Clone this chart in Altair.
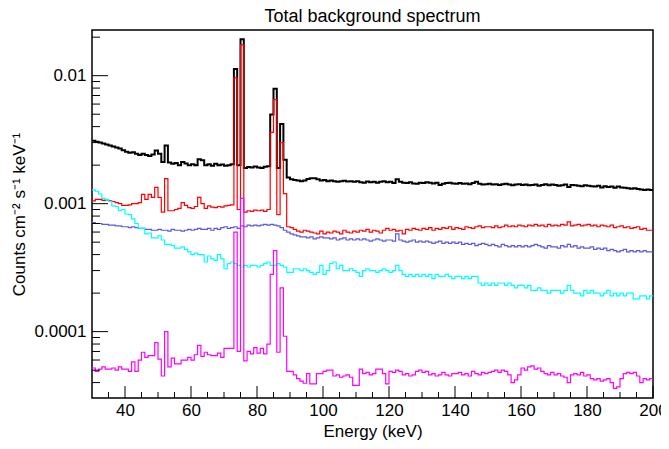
import altair as alt
import pandas as pd

# Bin left edges: 30..199 keV, 1 keV bins; values in units of 1e-5 counts cm^-2 s^-1 keV^-1
E_START = 30
UNIT = 1e-5

total = [
    310, 305, 300, 295, 290, 285, 280, 275, 270, 262,
    255, 250, 252, 245, 240, 246, 240, 236, 242, 260,
    245, 212, 285, 210, 205, 208, 200, 212, 206, 200,
    203, 200, 222, 218, 200, 203, 198, 205, 200, 202,
    198, 200, 203, 1130, 200, 1930, 190, 193, 192, 195,
    192, 190, 194, 196, 497, 790, 190, 420, 220, 160,
    155, 153, 152, 150, 152, 156, 158, 158, 155, 152,
    153, 150, 152, 150, 148, 150, 151, 149, 150, 148,
    150, 147, 146, 149, 147, 148, 146, 148, 150, 147,
    148, 145, 155, 148, 146, 145, 147, 144, 143, 146,
    145, 147, 146, 144, 146, 140, 143, 145, 146, 144,
    143, 145, 143, 144, 142, 145, 148, 143, 141, 142,
    143, 141, 142, 140, 142, 143, 141, 139, 141, 142,
    140, 141, 139, 140, 141, 138, 140, 142, 139, 141,
    140, 138, 139, 141, 135, 140, 139, 138, 137, 139,
    138, 137, 136, 138, 134, 137, 135, 136, 133, 136,
    134, 133, 132, 131, 132, 130, 129, 128, 129, 128,
]

component_red = [
    105, 108, 108, 106, 107, 105, 104, 102, 100, 97,
    97, 98, 100, 100, 102, 118, 108, 118, 112, 134,
    112, 86, 157, 88, 88, 90, 92, 102, 97, 93,
    92, 95, 112, 100, 92, 96, 94, 93, 95, 94,
    96, 97, 98, 960, 90, 1740, 86, 88, 87, 89,
    88, 89, 87, 90, 360, 650, 82, 300, 120, 66,
    65, 63, 61, 60, 62, 61, 60, 59, 58, 61,
    58, 60, 59, 61, 60, 58, 62, 60, 59, 61,
    60, 62, 61, 63, 60, 62, 61, 59, 62, 64,
    62, 63, 61, 62, 58, 63, 62, 64, 63, 62,
    64, 63, 65, 62, 64, 63, 65, 64, 66, 63,
    65, 64, 63, 66, 65, 64, 66, 67, 65, 66,
    66, 65, 67, 65, 66, 68, 66, 67, 66, 68,
    67, 66, 68, 67, 69, 67, 68, 66, 69, 67,
    68, 67, 69, 68, 72, 67, 68, 69, 67, 68,
    69, 67, 68, 66, 68, 67, 66, 68, 65, 66,
    67, 65, 66, 64, 65, 66, 63, 64, 62, 62,
]

component_blue = [
    71, 70, 70, 69, 69, 68, 68, 67, 67, 66,
    66, 65, 66, 65, 64, 64, 63, 63, 62, 62,
    63, 62, 62, 61, 63, 62, 62, 61, 62, 63,
    62, 63, 64, 63, 63, 64, 62, 64, 63, 65,
    66, 64, 65, 66, 64, 67, 66, 68, 67, 68,
    67, 68, 69, 68, 69, 68, 67, 65, 62, 60,
    58, 57, 56, 55, 55, 54, 55, 53, 54, 55,
    54, 54, 53, 54, 52, 53, 54, 52, 53, 52,
    53, 52, 53, 52, 51, 52, 53, 52, 51, 52,
    52, 51, 58, 52, 51, 50, 51, 52, 50, 51,
    50, 51, 50, 49, 50, 51, 49, 50, 49, 50,
    49, 50, 48, 49, 48, 49, 47, 48, 49, 48,
    47, 48, 47, 46, 48, 47, 46, 47, 46, 47,
    46, 47, 46, 47, 48, 47, 46, 45, 47, 46,
    46, 45, 47, 46, 48, 46, 47, 45, 46, 45,
    45, 46, 44, 45, 44, 45, 43, 44, 43, 42,
    43, 44, 42, 43, 42, 43, 42, 43, 42, 42,
]

component_cyan = [
    128, 125, 119, 110, 108, 104, 96, 95, 88, 90,
    83, 82, 76, 70, 64, 64, 58, 59, 54, 54,
    56, 52, 48, 48, 47, 45, 45, 46, 44, 42,
    40, 41, 40, 40, 35, 39, 37, 36, 40, 37,
    31, 34, 35, 34, 33, 32, 33, 32, 33, 33,
    32, 33, 34, 35, 33, 33, 34, 33, 32, 29,
    29, 31, 31, 30, 31, 30, 29, 28, 29, 33,
    28, 30, 34, 35, 31, 33, 30, 30, 31, 30,
    29, 27, 30, 31, 30, 30, 29, 30, 31, 30,
    29, 30, 33, 30, 28, 27, 28, 27, 28, 27,
    28, 27, 28, 26, 28, 27, 27, 28, 27, 26,
    27, 27, 26, 27, 26, 27, 27, 24, 23, 24,
    23, 24, 23, 24, 24, 23, 24, 23, 22, 23,
    23, 22, 23, 21, 21, 22, 21, 21, 20, 21,
    21, 21, 20, 21, 23, 21, 20, 20, 19, 21,
    20, 21, 20, 20, 19, 20, 21, 19, 20, 19,
    20, 19, 20, 20, 18, 18, 19, 19, 18, 19,
]

component_magenta = [
    5.2, 4.9, 5.1, 5.3, 5.1, 5.1, 5.2, 5.0, 5.3, 5.1,
    5.1, 4.9, 5.8, 4.9, 6.0, 6.9, 6.3, 6.5, 6.5, 8.2,
    6.1, 4.5, 10.0, 5.3, 6.2, 5.6, 5.6, 6.0, 6.0, 6.3,
    6.0, 6.6, 7.8, 6.4, 6.9, 6.6, 6.5, 6.5, 6.8, 6.3,
    7.4, 7.4, 7.4, 60, 7.0, 110, 5.9, 7.0, 6.7, 7.5,
    6.8, 7.4, 6.7, 8.0, 28, 43, 6.9, 22, 9.2, 4.9,
    4.9, 4.6, 4.3, 4.1, 3.95, 4.7, 3.9, 3.9, 4.7, 4.7,
    4.9, 5.0, 5.0, 4.5, 4.6, 4.4, 4.5, 4.6, 4.4, 3.8,
    3.8, 5.1, 4.7, 4.8, 4.6, 4.7, 5.1, 5.1, 4.7, 3.9,
    4.9, 4.8, 5.0, 4.9, 4.6, 4.7, 4.5, 4.6, 4.9, 5.0,
    4.8, 4.9, 4.6, 4.7, 4.5, 4.6, 4.8, 4.6, 4.5, 4.7,
    4.7, 4.8, 4.6, 4.7, 4.5, 4.9, 4.7, 4.6, 4.8, 4.7,
    4.8, 4.9, 5.0, 4.8, 5.0, 4.9, 4.6, 4.0, 4.2, 4.6,
    5.2, 5.0, 5.3, 5.4, 5.1, 5.2, 4.9, 4.7, 4.6, 4.8,
    4.6, 4.7, 4.5, 4.4, 4.0, 4.6, 4.7, 4.6, 4.8, 4.5,
    4.6, 4.3, 4.2, 4.3, 4.1, 4.2, 4.3, 4.0, 3.6, 3.7,
    4.3, 4.7, 4.8, 4.7, 4.8, 4.5, 4.0, 4.3, 4.2, 4.3,
]

series = [
    ("total", total, "#000000", 2.0),
    ("red", component_red, "#ff0000", 1.2),
    ("blue", component_blue, "#5a5adc", 1.2),
    ("cyan", component_cyan, "#00ffff", 1.2),
    ("magenta", component_magenta, "#ff00ff", 1.2),
]

x_major = [40, 60, 80, 100, 120, 140, 160, 180, 200]
x_minor = [35, 45, 50, 55, 65, 70, 75, 85, 90, 95, 105, 110, 115, 125, 130, 135,
           145, 150, 155, 165, 170, 175, 185, 190, 195]
y_major = [1e-4, 1e-3, 1e-2]
y_minor = [4e-5, 5e-5, 6e-5, 7e-5, 8e-5, 9e-5,
           2e-4, 3e-4, 4e-4, 5e-4, 6e-4, 7e-4, 8e-4, 9e-4,
           2e-3, 3e-3, 4e-3, 5e-3, 6e-3, 7e-3, 8e-3, 9e-3, 2e-2]

W, H = 561, 368
FONT = "Liberation Sans"
FS = 17
x_scale = alt.Scale(domain=[30, 200], nice=False, zero=False)
y_scale = alt.Scale(type="log", domain=[3.03e-5, 0.02275], nice=False)

layers = []
for i, (name, vals, color, sw) in enumerate(series):
    energies = [E_START + k for k in range(len(vals))] + [E_START + len(vals)]
    ys = [v * UNIT for v in vals] + [vals[-1] * UNIT]
    df = pd.DataFrame({"energy": energies, "rate": ys})
    if i == 0:
        xenc = alt.X("energy:Q", scale=x_scale,
                     axis=alt.Axis(values=x_major, ticks=False, domain=False, grid=False,
                                   labelFlush=False,
                                   labelFontSize=FS, labelFont=FONT, labelColor="black",
                                   labelPadding=4, title="Energy (keV)", titleFont=FONT,
                                   titleFontSize=FS, titleFontWeight="normal",
                                   titleColor="black", titlePadding=5))
        yenc = alt.Y("rate:Q", scale=y_scale,
                     axis=alt.Axis(values=y_major, format="~g", ticks=False, domain=False,
                                   grid=False, labelFontSize=FS, labelFont=FONT,
                                   labelColor="black", labelPadding=6,
                                   title="Counts cm⁻² s⁻¹ keV⁻¹", titleFont=FONT,
                                   titleFontSize=FS, titleFontWeight="normal",
                                   titleColor="black", titlePadding=6))
    else:
        xenc = alt.X("energy:Q", scale=x_scale)
        yenc = alt.Y("rate:Q", scale=y_scale)
    layers.append(
        alt.Chart(df).mark_line(interpolate="step-after", color=color, strokeWidth=sw)
        .encode(x=xenc, y=yenc)
    )

# Inside tick marks (ROOT style)
ytm = alt.Chart(pd.DataFrame({"v": y_major})).mark_rule(color="black", strokeWidth=1).encode(
    y=alt.Y("v:Q", scale=y_scale), x=alt.value(0), x2=alt.value(16))
ytn = alt.Chart(pd.DataFrame({"v": y_minor})).mark_rule(color="black", strokeWidth=1).encode(
    y=alt.Y("v:Q", scale=y_scale), x=alt.value(0), x2=alt.value(8))
xtm = alt.Chart(pd.DataFrame({"v": x_major})).mark_rule(color="black", strokeWidth=1).encode(
    x=alt.X("v:Q", scale=x_scale), y=alt.value(H), y2=alt.value(H - 12))
xtn = alt.Chart(pd.DataFrame({"v": x_minor})).mark_rule(color="black", strokeWidth=1).encode(
    x=alt.X("v:Q", scale=x_scale), y=alt.value(H), y2=alt.value(H - 6))

chart = alt.layer(*layers, ytm, ytn, xtm, xtn).properties(
    width=W, height=H,
    background="white",
    title=alt.TitleParams("Total background spectrum", font=FONT, fontSize=18,
                          fontWeight="normal", color="black", anchor="middle", offset=4),
    padding={"left": 84, "top": 22, "right": 8, "bottom": 43},
    autosize=alt.AutoSizeParams(type="none"),
).configure_view(stroke="black", strokeWidth=1.5)

chart.save("out.html", embed_options={"renderer": "svg", "actions": False})
